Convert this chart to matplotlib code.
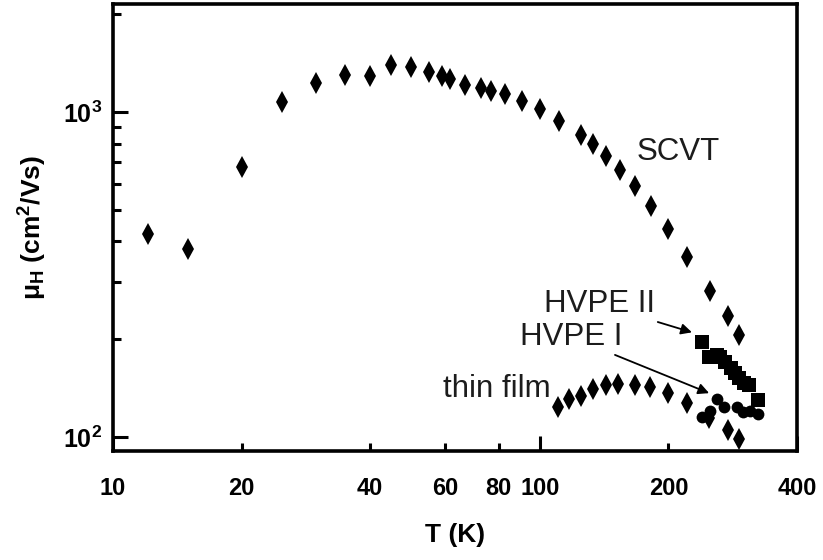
import matplotlib
matplotlib.use("Agg")
import matplotlib.pyplot as plt
from matplotlib.ticker import FixedLocator, FixedFormatter, NullFormatter

plt.rcParams['font.family'] = ['Liberation Sans', 'DejaVu Sans']
plt.rcParams['mathtext.fontset'] = 'custom'
plt.rcParams['mathtext.rm'] = 'Liberation Sans'
plt.rcParams['mathtext.bf'] = 'Liberation Sans:bold'
plt.rcParams['mathtext.it'] = 'Liberation Sans:italic'

# Hall mobility vs temperature
scvt_T = [12.1, 15.0, 20.0, 24.9, 29.9, 34.9, 39.9, 44.7, 49.9, 54.9, 58.9, 61.7, 66.7,
          72.9, 76.9, 82.8, 90.9, 99.8, 110.8, 124.5, 132.9, 142.5, 153.9, 167.0, 181.6,
          199.5, 221.3, 249.7, 275.0, 292.0]
scvt_mu = [421, 378, 676, 1076, 1231, 1302, 1291, 1395, 1379, 1327, 1291, 1266, 1208,
           1188, 1163, 1138, 1079, 1019, 940, 848, 796, 731, 663, 593, 515,
           436, 357, 282, 236, 206]

film_T = [110.4, 116.9, 124.5, 132.9, 142.7, 152.6, 167.0, 181.0, 199.8, 221.3, 249.0, 275.0, 292.0]
film_mu = [124.0, 130.6, 134.0, 140.8, 144.2, 145.5, 144.8, 142.8, 136.8, 127.5, 114.1, 105.5, 98.6]

hvpe1_T = [239.6, 250.0, 259.7, 269.7, 289.3, 299.3, 310.4, 324.0]
hvpe1_mu = [115.6, 120.2, 130.9, 123.7, 123.7, 119.6, 120.2, 117.7]

hvpe2_T = [239.2, 249.0, 259.3, 264.0, 271.3, 280.1, 286.0, 292.8, 300.0, 309.0, 324.5]
hvpe2_mu = [196.4, 175.9, 178.8, 176.0, 170.5, 162.7, 157.0, 151.6, 147.0, 144.5, 130.0]

x_ticks_major = [10, 100, 400]
x_ticks_minor = [20, 40, 60, 80, 200]
x_labels_major = ['10', '100', '400']
x_labels_minor = ['20', '40', '60', '80', '200']
y_ticks_major = [100, 1000]
y_labels_major = [r'$\mathbf{10^{2}}$', r'$\mathbf{10^{3}}$']
y_ticks_minor = [200, 300, 400, 500, 600, 700, 800, 900, 2000]

fig = plt.figure(figsize=(8.23, 5.60), dpi=100)
ax = fig.add_axes([113 / 823, 1 - 451 / 560, (797 - 113) / 823, (451 - 4) / 560])
ax.set_xscale('log')
ax.set_yscale('log')
ax.set_xlim(10, 400)
ax.set_ylim(90.6, 2150)

ax.plot(scvt_T, scvt_mu, linestyle='none', marker='d', ms=11, mfc='black', mec='black', mew=0)
ax.plot(film_T, film_mu, linestyle='none', marker='d', ms=11, mfc='black', mec='black', mew=0)
ax.plot(hvpe1_T, hvpe1_mu, linestyle='none', marker='o', ms=8.5, mfc='black', mec='black', mew=0)
ax.plot(hvpe2_T, hvpe2_mu, linestyle='none', marker='s', ms=9.5, mfc='black', mec='black', mew=0)

for s in ax.spines.values():
    s.set_linewidth(2.6)

ax.xaxis.set_major_locator(FixedLocator(x_ticks_major))
ax.xaxis.set_major_formatter(FixedFormatter(x_labels_major))
ax.xaxis.set_minor_locator(FixedLocator(x_ticks_minor))
ax.xaxis.set_minor_formatter(FixedFormatter(x_labels_minor))
ax.yaxis.set_major_locator(FixedLocator(y_ticks_major))
ax.yaxis.set_major_formatter(FixedFormatter(y_labels_major))
ax.yaxis.set_minor_locator(FixedLocator(y_ticks_minor))
ax.yaxis.set_minor_formatter(NullFormatter())

ax.tick_params(axis='x', which='major', direction='in', length=11, width=2.2,
               labelsize=17, pad=19, top=False)
ax.tick_params(axis='x', which='minor', direction='in', length=6, width=2.2,
               labelsize=17, pad=19, top=False)
ax.tick_params(axis='y', which='major', direction='in', length=11, width=2.2,
               labelsize=18, pad=8, right=False)
ax.tick_params(axis='y', which='minor', direction='in', length=6, width=2.2, right=False)
for lab in ax.get_xticklabels(which='both'):
    lab.set_fontweight('bold')

ax.set_xlabel('T (K)', fontsize=19, fontweight='bold', labelpad=16)
ax.set_ylabel(r'$\mathbf{μ_H}$ (cm$^\mathbf{2}$/Vs)', fontsize=19, fontweight='bold', labelpad=10)

txt = dict(fontsize=22.5, color='#1c1c1c')
ax.text(168.7, 711, 'SCVT', ha='left', va='baseline', **txt)
ax.text(106, 132.8, 'thin film', ha='right', va='baseline', **txt)
arrow = dict(arrowstyle='-|>', lw=1.3, color='black', mutation_scale=16, shrinkA=0, shrinkB=0)
ax.annotate('HVPE II', xy=(227, 210), xytext=(186, 256), ha='right', va='center',
            arrowprops=arrow, **txt)
ax.annotate('HVPE I', xy=(249, 136.5), xytext=(156, 203), ha='right', va='center',
            arrowprops=arrow, **txt)

fig.savefig('out.png', dpi=100)
